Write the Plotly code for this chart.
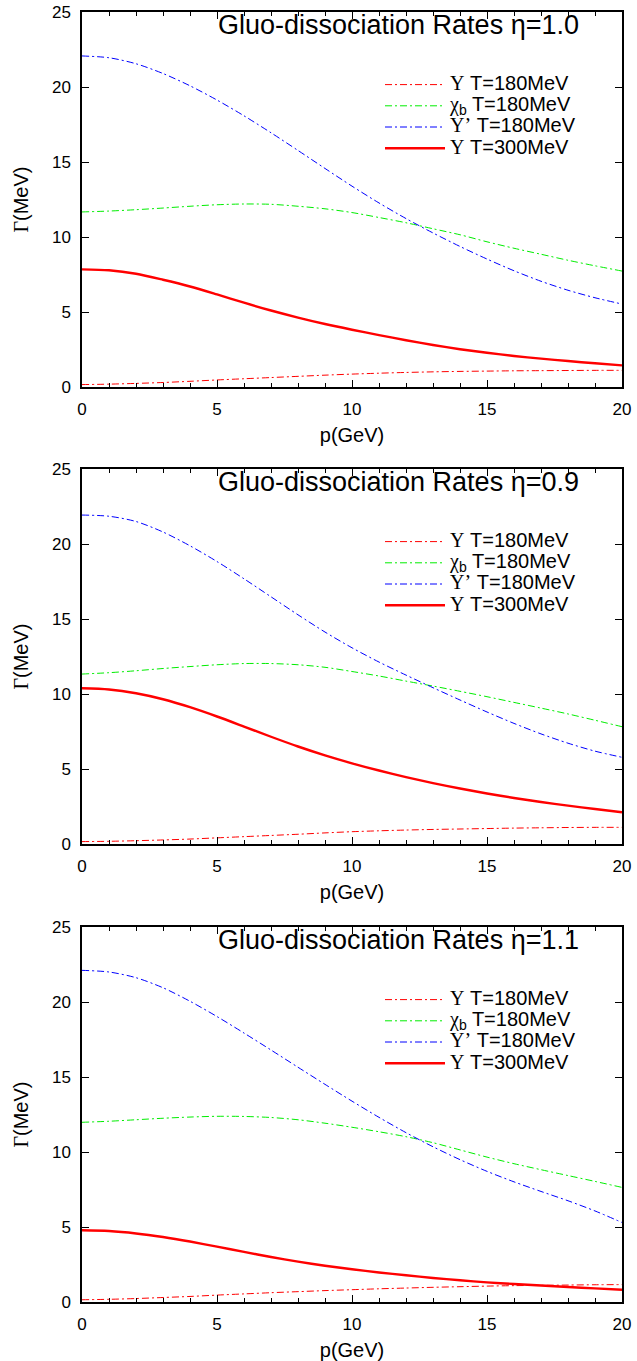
import plotly.graph_objects as go

p = list(range(0, 21))

# eta = 1.0
ups180_a = [0.16, 0.19, 0.24, 0.30, 0.38, 0.47, 0.55, 0.63, 0.71, 0.79, 0.86, 0.92, 0.97, 1.01, 1.04, 1.06, 1.08, 1.09, 1.10, 1.11, 1.11]
chib180_a = [11.67, 11.73, 11.82, 11.93, 12.05, 12.15, 12.20, 12.18, 12.05, 11.88, 11.63, 11.30, 10.95, 10.55, 10.15, 9.68, 9.25, 8.85, 8.45, 8.08, 7.73]
upsp180_a = [22.07, 21.95, 21.55, 20.90, 20.08, 19.13, 18.08, 16.95, 15.77, 14.57, 13.39, 12.27, 11.23, 10.27, 9.37, 8.53, 7.75, 7.05, 6.45, 5.95, 5.53]
ups300_a = [7.84, 7.78, 7.55, 7.15, 6.70, 6.17, 5.62, 5.10, 4.63, 4.20, 3.82, 3.46, 3.12, 2.80, 2.52, 2.28, 2.07, 1.89, 1.73, 1.58, 1.44]

# eta = 0.9
ups180_b = [0.16, 0.18, 0.22, 0.27, 0.33, 0.41, 0.49, 0.57, 0.65, 0.74, 0.82, 0.88, 0.93, 0.97, 1.00, 1.03, 1.06, 1.08, 1.10, 1.11, 1.11]
chib180_b = [11.33, 11.42, 11.55, 11.70, 11.83, 11.95, 12.03, 12.03, 11.95, 11.78, 11.50, 11.20, 10.86, 10.53, 10.18, 9.82, 9.44, 9.06, 8.67, 8.25, 7.82]
upsp180_b = [21.93, 21.85, 21.50, 20.80, 19.88, 18.83, 17.68, 16.48, 15.28, 14.13, 13.08, 12.13, 11.26, 10.42, 9.60, 8.80, 8.04, 7.34, 6.72, 6.19, 5.78]
ups300_b = [10.38, 10.30, 10.05, 9.65, 9.12, 8.50, 7.83, 7.15, 6.50, 5.91, 5.38, 4.90, 4.46, 4.06, 3.70, 3.37, 3.07, 2.80, 2.56, 2.33, 2.12]

# eta = 1.1
ups180_c = [0.15, 0.18, 0.23, 0.30, 0.37, 0.46, 0.54, 0.62, 0.69, 0.76, 0.82, 0.88, 0.93, 0.98, 1.02, 1.06, 1.09, 1.11, 1.13, 1.15, 1.16]
chib180_c = [11.98, 12.05, 12.15, 12.25, 12.33, 12.38, 12.37, 12.30, 12.15, 11.92, 11.65, 11.35, 11.02, 10.62, 10.14, 9.66, 9.22, 8.82, 8.43, 8.04, 7.64]
upsp180_c = [22.11, 22.00, 21.62, 20.95, 20.05, 19.03, 17.93, 16.80, 15.65, 14.51, 13.39, 12.31, 11.29, 10.35, 9.49, 8.71, 8.01, 7.37, 6.75, 6.07, 5.30]
ups300_c = [4.78, 4.73, 4.57, 4.33, 4.03, 3.69, 3.34, 3.00, 2.69, 2.42, 2.18, 1.97, 1.78, 1.60, 1.45, 1.31, 1.20, 1.10, 1.00, 0.91, 0.82]

etas = ["1.0", "0.9", "1.1"]
panels = [
    (ups180_a, chib180_a, upsp180_a, ups300_a),
    (ups180_b, chib180_b, upsp180_b, ups300_b),
    (ups180_c, chib180_c, upsp180_c, ups300_c),
]

SER = "<span style=\"font-family:'Liberation Serif'\">"


def big(t):
    return "<span style=\"font-size:20px\">" + t + "</span>"


names = [
    big(SER + "Υ</span> T=180MeV"),
    big(SER + "χ</span><sub>b</sub> T=180MeV"),
    big(SER + "Υ’</span> T=180MeV"),
    big(SER + "Υ</span> T=300MeV"),
]
colors = ["#ff0000", "#00ee00", "#0000ff", "#ff0000"]
dashes = ["7px,3px,2px,3px", "7px,3px,2px,3px", "7px,3px,2px,3px", "solid"]
widths = [1.0, 1.0, 1.0, 2.4]

# the page body margin is removed below, so screen pixels == figure pixels
W = 637
H = 1361
L = 82          # plot left edge
R = W - 622     # plot right edge at 622
PW = W - L - R
# panel pixel extents (top, bottom)
ext = [(12, 387), (469, 844), (927, 1302)]

fig = go.Figure()
font = "Liberation Sans, Arial, sans-serif"


def ypaper(py):
    return 1 - py / H


def xpaper(px):
    return (px - L) / PW


for i, (vals, eta, (top, bot)) in enumerate(zip(panels, etas, ext)):
    sfx = "" if i == 0 else str(i + 1)
    lg = "legend" if i == 0 else "legend" + str(i + 1)
    for j in range(4):
        fig.add_trace(go.Scatter(
            x=p, y=vals[j], mode="lines", name=names[j],
            line=dict(color=colors[j], dash=dashes[j], width=widths[j], shape="spline", smoothing=0.8),
            xaxis="x" + sfx, yaxis="y" + sfx, legend=lg, showlegend=True,
        ))
    fig.layout["yaxis" + sfx] = dict(
        domain=[ypaper(bot), ypaper(top)], range=[0, 25], tickvals=[0, 5, 10, 15, 20, 25],
        ticks="inside", ticklen=7, tickwidth=1, tickcolor="black",
        showline=True, linecolor="black", linewidth=1.5, mirror="ticks",
        showgrid=False, zeroline=False, anchor="x" + sfx, automargin=False,
        ticklabelstandoff=6, ticklabeloverflow="allow",
        tickfont=dict(size=17, color="black", family=font),
        title=dict(text=SER + "Γ</span>(MeV)", font=dict(size=20, color="black", family=font), standoff=18),
    )
    fig.layout["xaxis" + sfx] = dict(
        domain=[0, 1], range=[0, 20], tickvals=[0, 5, 10, 15, 20],
        ticks="inside", ticklen=7, tickwidth=1, tickcolor="black",
        minor=dict(dtick=1, ticks="inside", ticklen=4, tickcolor="black", showgrid=False),
        showline=True, linecolor="black", linewidth=1.5, mirror="ticks",
        showgrid=False, zeroline=False, anchor="y" + sfx, automargin=False,
        ticklabelstandoff=6, ticklabeloverflow="allow",
        tickfont=dict(size=17, color="black", family=font),
        title=dict(text="p(GeV)", font=dict(size=20, color="black", family=font), standoff=10),
    )
    fig.add_annotation(
        x=xpaper(398), y=ypaper(top + 13), xref="paper", yref="paper",
        text=f"Gluo-dissociation Rates η={eta}", showarrow=False,
        font=dict(size=27, color="black", family=font), xanchor="center", yanchor="middle",
    )
    fig.layout[lg] = dict(
        x=xpaper(380), y=ypaper(top + 57), xanchor="left", yanchor="top",
        bgcolor="rgba(0,0,0,0)", borderwidth=0, tracegroupgap=0,
        font=dict(size=14, color="black", family=font), itemwidth=60,
    )

fig.update_layout(
    width=W, height=H,
    margin=dict(l=L, r=R, t=0, b=0),
    paper_bgcolor="white", plot_bgcolor="white",
    showlegend=True,
)

fig.write_html(
    "out.html",
    config={"displayModeBar": False},
    post_script="document.body.style.margin='0px';document.documentElement.style.overflow='hidden';",
)
